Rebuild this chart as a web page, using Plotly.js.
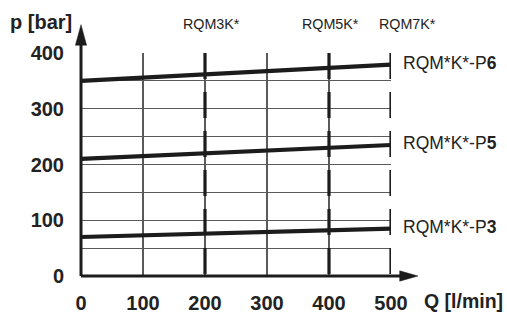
<!DOCTYPE html>
<html>
<head>
<meta charset="utf-8">
<script src="https://cdn.plot.ly/plotly-3.0.1.min.js"></script>
<style>
html,body{margin:0;padding:0;background:#fff;}
#chart{width:507px;height:313px;}
</style>
</head>
<body>
<div id="chart"></div>
<script>
// Data
const flowQ = [0, 500];                       // l/min
const pressureP6 = [350, 379];                // bar
const pressureP5 = [210, 235];
const pressureP3 = [70, 85];
const seriesNames = ["RQM*K*-P", "RQM*K*-P", "RQM*K*-P"];
const seriesSuffix = ["6", "5", "3"];
const sizeFlows = [200, 400, 500];            // max flow of sizes
const sizeLabels = ["RQM3K*", "RQM5K*", "RQM7K*"];
const sizeLabelX = [210, 403, 527];
const xTicks = [0, 100, 200, 300, 400, 500];
const yTicks = [0, 100, 200, 300, 400];
const xMax = 500;

const ink = "#1c1c1c";
const gridCol = "#5a5a5a";
const tickFont = {family: "Liberation Sans, Arial, sans-serif", size: 20, color: "#222", weight: 700};

const traces = [];
// thick dashed size lines
sizeFlows.forEach(q => {
  traces.push({
    x: [q, q], y: [400, 0], mode: "lines", hoverinfo: "skip", showlegend: false,
    line: {color: ink, width: 3.2, dash: "26px,13px"}
  });
});
const series = [pressureP6, pressureP5, pressureP3];
series.forEach(p => {
  traces.push({
    x: flowQ, y: p, mode: "lines", hoverinfo: "skip", showlegend: false,
    line: {color: ink, width: 4.2}
  });
});

const annotations = [];
series.forEach((p, i) => {
  annotations.push({
    x: flowQ[flowQ.length - 1], y: p[p.length - 1], xref: "x", yref: "y",
    xanchor: "left", yanchor: "middle", xshift: 10, yshift: 2, showarrow: false,
    text: seriesNames[i] + "<b>" + seriesSuffix[i] + "</b>",
    font: {family: "Liberation Sans, Arial, sans-serif", size: 17.5, color: "#222"}
  });
});
sizeLabels.forEach((s, i) => {
  annotations.push({
    x: sizeLabelX[i] / xMax, y: 1.13, xref: "paper", yref: "paper",
    xanchor: "center", yanchor: "middle", showarrow: false, text: s,
    font: {family: "Liberation Sans, Arial, sans-serif", size: 14.3, color: "#222"}
  });
});
annotations.push({
  x: -0.022, y: 1.137, xref: "paper", yref: "paper", xanchor: "right", yanchor: "middle",
  showarrow: false, text: "p [bar]", font: tickFont
});
annotations.push({
  x: 1.099, y: -0.112, xref: "paper", yref: "paper", xanchor: "left", yanchor: "middle",
  showarrow: false, text: "Q [l/min]", font: Object.assign({}, tickFont, {size: 19.5})
});

const shapes = [
  {type: "line", xref: "paper", yref: "paper", x0: 0, y0: 0, x1: 1.035, y1: 0, line: {color: ink, width: 3}},
  {type: "line", xref: "paper", yref: "paper", x0: 0, y0: 0, x1: 0, y1: 1.04, line: {color: ink, width: 3}},
  {type: "path", xref: "paper", yref: "paper", path: "M 1.028 -0.023 L 1.087 0 L 1.028 0.023 Z", fillcolor: ink, line: {color: ink, width: 0.5}},
  {type: "path", xref: "paper", yref: "paper", path: "M -0.018 1.035 L 0 1.127 L 0.018 1.035 Z", fillcolor: ink, line: {color: ink, width: 0.5}}
];

const layout = {
  width: 507, height: 313,
  margin: {l: 81, r: 116, t: 53, b: 37, pad: 0},
  paper_bgcolor: "#fff", plot_bgcolor: "#fff",
  showlegend: false,
  xaxis: {
    range: [0, xMax], tickvals: xTicks, ticktext: xTicks.map(String),
    showgrid: true, gridcolor: gridCol, gridwidth: 1.2, zeroline: false, showline: false,
    ticks: "outside", ticklen: 9, tickcolor: "rgba(0,0,0,0)",
    tickfont: tickFont, fixedrange: true
  },
  yaxis: {
    range: [0, 400], tickvals: yTicks, ticktext: yTicks.map(String),
    showgrid: true, gridcolor: gridCol, gridwidth: 1.2, zeroline: false, showline: false,
    minor: {dtick: 50, showgrid: true, gridcolor: gridCol, gridwidth: 1.2, ticks: ""},
    ticks: "outside", ticklen: 12, tickcolor: "rgba(0,0,0,0)",
    tickfont: tickFont, fixedrange: true
  },
  annotations: annotations,
  shapes: shapes
};

Plotly.newPlot("chart", traces, layout, {staticPlot: true, displayModeBar: false});
</script>
</body>
</html>
